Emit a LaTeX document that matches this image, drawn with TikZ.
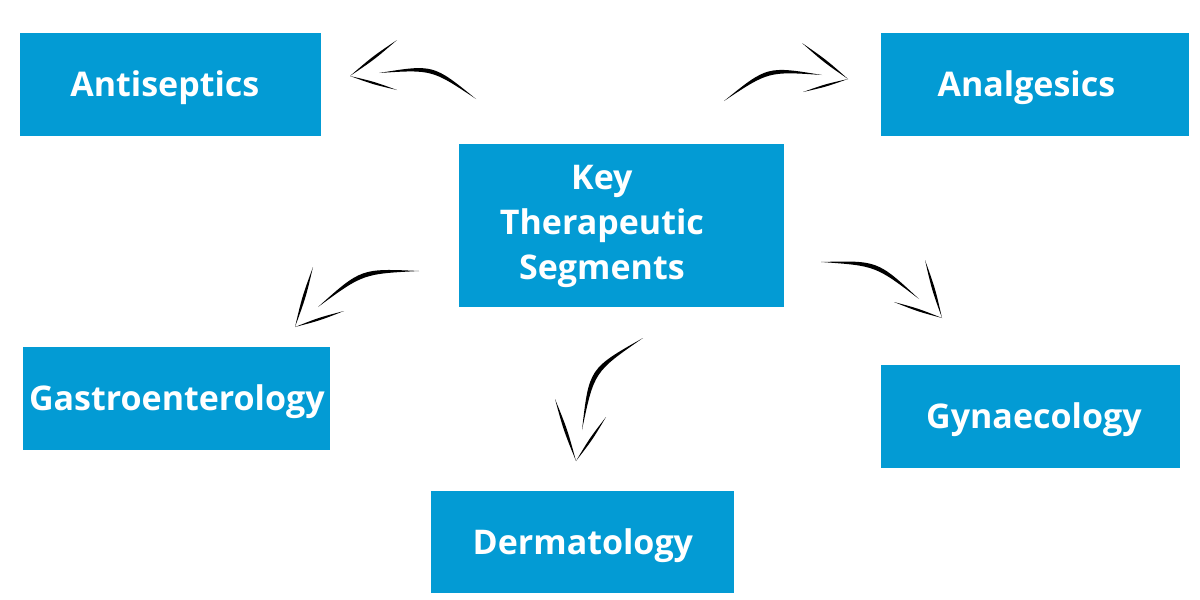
\documentclass[tikz,border=0pt]{standalone}
\usepackage{fontspec}
\setmainfont{Open Sans}
\usetikzlibrary{positioning,calc}
\definecolor{segblue}{RGB}{3,155,212}
\tikzset{%
  seg/.style={fill=segblue,text=white,inner sep=0pt,anchor=north west,
    font=\fontsize{17pt}{22.5pt}\selectfont\bfseries},
  oneline/.style={text height=12pt,text depth=0pt},
  ink/.style={fill=black}
}
% hand drawn stroke: tail, end, bend, side
\newcommand{\inkshaft}[4]{%
  \fill[ink] (#1) .. controls ($(#1)!.5!(#2)!#3!#4:(#2)$) .. (#2)
    .. controls ($(#1)!.5!(#2)!#3+.11!#4:(#2)$) .. (#1);}
% one side of an open arrow head: tip, end
\newcommand{\inkbarb}[2]{%
  \fill[ink] (#1) .. controls ($(#1)!.5!(#2)!.06!90:(#2)$) .. (#2)
    .. controls ($(#1)!.5!(#2)!.06!-90:(#2)$) .. (#1);}

\begin{document}
\begin{tikzpicture}[x=0.5pt,y=-0.5pt]
  \useasboundingbox (0,0) rectangle (1200,600);

  \node[seg,oneline,minimum width=150.5pt,minimum height=51.5pt] (ant) at (20,33) {Antiseptics\kern6pt\mbox{}};
  \node[seg,oneline,minimum width=154pt,minimum height=51.5pt] (ana) at (881,33) {Analgesics\kern9pt\mbox{}};
  \node[seg,minimum width=162.5pt,minimum height=81.5pt] (ctr) at (459,144)
    {\begin{tabular}{@{}c@{\hspace{20pt}}}Key\\Therapeutic\\Segments\end{tabular}};
  \node[seg,oneline,minimum width=153.5pt,minimum height=51.5pt] (gas) at (23,347) {Gastroenterology};
  \node[seg,oneline,minimum width=149.5pt,minimum height=51.5pt] (gyn) at (881,365) {\mbox{}\kern3pt Gynaecology};
  \node[seg,oneline,minimum width=151.5pt,minimum height=51pt] (der) at (431,491) {Dermatology};

  % arrows out of the centre
  \coordinate (antT) at (476,99);
  \coordinate (antE) at (379,73);
  \coordinate (antP) at (350,76);
  \inkshaft{antT}{antE}{.34}{-90}
  \inkbarb{antP}{397,40}
  \inkbarb{antP}{397,90}

  \coordinate (anaT) at (724,101);
  \coordinate (anaE) at (822,75);
  \coordinate (anaP) at (848,79);
  \inkshaft{anaT}{anaE}{.34}{90}
  \inkbarb{anaP}{802,43}
  \inkbarb{anaP}{803,92}

  \coordinate (gasT) at (419,271);
  \coordinate (gasE) at (318,307);
  \coordinate (gasP) at (295,327);
  \inkshaft{gasT}{gasE}{.3}{-90}
  \inkbarb{gasP}{313,267}
  \inkbarb{gasP}{344,311}

  \coordinate (derT) at (643,338);
  \coordinate (derE) at (582,430);
  \coordinate (derP) at (576,461);
  \inkshaft{derT}{derE}{.4}{-90}
  \inkbarb{derP}{555,399}
  \inkbarb{derP}{606,417}

  \coordinate (gynT) at (821,262);
  \coordinate (gynE) at (919,299);
  \coordinate (gynP) at (942,318);
  \inkshaft{gynT}{gynE}{.3}{90}
  \inkbarb{gynP}{925,260}
  \inkbarb{gynP}{894,302}
\end{tikzpicture}
\end{document}
